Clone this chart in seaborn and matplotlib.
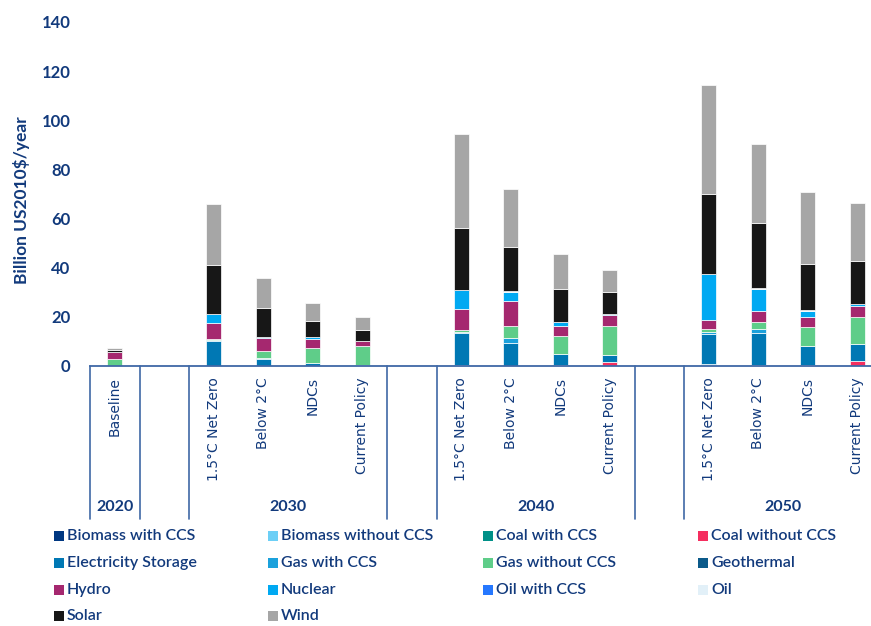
import numpy as np
import matplotlib
matplotlib.use("Agg")
import matplotlib.pyplot as plt
from matplotlib.patches import Rectangle
import seaborn as sns

# ---- data (billion US2010$ per year) ----
years = ["2020", "2030", "2040", "2050"]
baseline_scenarios = ["Baseline"]
scenarios = ["1.5°C Net Zero", "Below 2°C", "NDCs", "Current Policy"]

technologies = [
    "Biomass with CCS", "Biomass without CCS", "Coal with CCS", "Coal without CCS",
    "Electricity Storage", "Gas with CCS", "Gas without CCS", "Geothermal",
    "Hydro", "Nuclear", "Oil with CCS", "Oil",
    "Solar", "Wind",
]
tech_colors = [
    "#003781", "#6ccff6", "#009088", "#f52e5f",
    "#0078b4", "#1ba1dc", "#5fcd89", "#0b5a8a",
    "#a5286f", "#00a9f2", "#2678ff", "#e2f0f8",
    "#171717", "#a6a6a6",
]

# order of bars: 2020 Baseline, then 2030/2040/2050 x (Net Zero, Below 2°C, NDCs, Current Policy)
biomass_ccs     = [0.0, 0.0, 0.0, 0.0, 0.4, 0.3, 0.0, 0.4, 0.0, 0.5, 0.4, 0.0, 0.0]
biomass_no_ccs  = [0.0] * 13
coal_ccs        = [0.0, 0.0, 0.0, 0.0, 0.0, 0.0, 0.0, 0.0, 0.0, 0.3, 0.0, 0.0, 0.0]
coal_no_ccs     = [0.0, 0.0, 0.0, 0.0, 0.0, 0.0, 0.0, 0.0, 1.6, 0.0, 0.0, 0.4, 2.0]
elec_storage    = [0.2, 10.3, 2.7, 1.4, 0.0, 13.1, 9.4, 4.3, 2.7, 12.2, 13.2, 7.9, 7.1]
gas_ccs         = [0.0, 0.4, 0.5, 0.0, 0.0, 0.5, 1.8, 0.0, 0.0, 0.9, 1.6, 0.0, 0.0]
gas_no_ccs      = [2.7, 0.4, 3.0, 5.8, 7.9, 0.8, 4.9, 7.6, 11.8, 1.2, 2.7, 7.7, 10.7]
geothermal      = [0.0] * 13
hydro           = [2.6, 6.6, 5.3, 3.9, 1.9, 8.5, 10.3, 4.1, 4.6, 3.7, 4.3, 3.9, 4.7]
nuclear         = [0.4, 3.5, 0.5, 0.7, 0.0, 7.6, 3.8, 1.4, 0.5, 18.7, 9.2, 2.3, 0.9]
oil_ccs         = [0.0] * 13
oil             = [0.0, 0.0, 0.0, 0.0, 0.0, 0.0, 0.5, 0.0, 0.0, 0.0, 0.5, 0.5, 0.0]
solar           = [0.8, 20.0, 11.8, 6.6, 4.3, 25.4, 17.8, 13.4, 8.8, 32.4, 26.3, 18.9, 17.2]
wind            = [0.5, 24.8, 12.2, 7.1, 5.3, 38.4, 23.7, 14.5, 9.2, 44.5, 32.0, 29.3, 23.6]

series = [biomass_ccs, biomass_no_ccs, coal_ccs, coal_no_ccs, elec_storage, gas_ccs,
          gas_no_ccs, geothermal, hydro, nuclear, oil_ccs, oil, solar, wind]

y_ticks = [0, 20, 40, 60, 80, 100, 120, 140]

NAVY = "#123a7c"
RULE = "#3f68a6"

# ---- category layout: one empty slot between year groups ----
groups = [(years[0], baseline_scenarios)] + [(y, scenarios) for y in years[1:]]
order, bar_keys, tick_labels, spans = [], [], [], []
for gi, (yr, scen) in enumerate(groups):
    if gi > 0:
        order.append(f"_gap{gi}")
    start = len(order)
    for s in scen:
        key = f"{yr} | {s}"
        order.append(key)
        bar_keys.append(key)
        tick_labels.append(s)
    spans.append((yr, start, len(order) - 1))
bar_keys = np.array(bar_keys)

sns.set_theme(style="white")
plt.rcParams["font.family"] = ["Lato", "DejaVu Sans"]

W, H = 871, 626
fig = plt.figure(figsize=(W / 100, H / 100), dpi=100)
ax_left, ax_bottom_px, ax_top_px = 90, 366, 22
slot_px = 49.5
n_visible = (W - ax_left) / slot_px
ax = fig.add_axes([ax_left / W, 1 - ax_bottom_px / H,
                   (W - ax_left) / W, (ax_bottom_px - ax_top_px) / H])

# ---- stacked bars ----
cum = np.zeros(len(bar_keys))
for tech, col, vals in zip(technologies, tech_colors, series):
    vals = np.asarray(vals, dtype=float)
    mask = vals > 0
    if mask.any():
        sns.barplot(x=bar_keys[mask], y=vals[mask], order=order, bottom=cum[mask],
                    color=col, saturation=1, width=0.31, errorbar=None, ax=ax,
                    edgecolor="white", linewidth=0.5)
    cum += vals

ax.set_xlim(-0.5, -0.5 + n_visible)
ax.set_ylim(0, 140)
ax.set_yticks(y_ticks)
ax.set_yticklabels([str(t) for t in y_ticks], fontsize=12, fontweight="bold", color=NAVY)
ax.tick_params(axis="y", length=0, pad=14)

positions = [order.index(k) for k in bar_keys]
ax.set_xticks(positions)
ax.set_xticklabels(tick_labels, rotation=90, fontsize=10, color=NAVY,
                   fontfamily="DejaVu Sans")
ax.tick_params(axis="x", length=0, pad=8)
ax.set_xlabel("")
ax.set_ylabel("")

for side in ["top", "right", "left"]:
    ax.spines[side].set_visible(False)
ax.spines["bottom"].set_color(RULE)
ax.spines["bottom"].set_linewidth(1.3)
ax.grid(False)

# ---- two-level category axis: group dividers and year labels ----
xt = ax.get_xaxis_transform()
ax_h = ax_bottom_px - ax_top_px
line_depth = -(519 - ax_bottom_px) / ax_h
bounds = set()
for yr, s, e in spans:
    bounds.update([s - 0.5, e + 0.5])
for b in sorted(bounds):
    ax.plot([b, b], [0, line_depth], transform=xt, clip_on=False, color=RULE, lw=1.2)
for yr, s, e in spans:
    ax.text((s + e) / 2, -(507 - ax_bottom_px) / ax_h, yr, transform=xt,
            ha="center", va="center", fontsize=11.5, fontweight="bold", color=NAVY)

# ---- y axis title ----
fig.text(22 / W, 1 - 200 / H, "Billion US2010$/year", rotation=90, ha="center", va="center",
         fontsize=12.5, fontweight="bold", color=NAVY)

# ---- legend (4 equal-width columns) ----
col_x = [54, 268, 483, 698]
row_y = [536, 563, 590, 616]
sq = 10
for i, (tech, col) in enumerate(zip(technologies, tech_colors)):
    r, c = divmod(i, 4)
    x0, yc = col_x[c], row_y[r]
    fig.add_artist(Rectangle((x0 / W, 1 - (yc + sq / 2) / H), sq / W, sq / H,
                             transform=fig.transFigure, facecolor=col, edgecolor="none"))
    fig.text((x0 + sq + 3) / W, 1 - yc / H, tech, ha="left", va="center",
             fontsize=11.5, fontweight="semibold", color=NAVY)

fig.savefig("out.png", dpi=100)
